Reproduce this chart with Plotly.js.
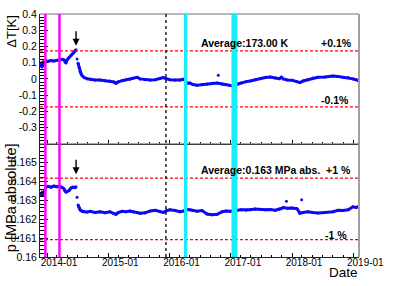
<!DOCTYPE html>
<html>
<head>
<meta charset="utf-8">
<script src="https://cdn.plot.ly/plotly-3.0.1.min.js"></script>
<style>html,body{margin:0;padding:0;background:#fff;}#plot{width:399px;height:286px;}</style>
</head>
<body>
<div id="plot"></div>
<script>
// ---- data ----
var dates = [
'2013-11-20','2013-11-26','2013-12-02','2013-12-08','2013-12-14','2013-12-26','2014-01-07','2014-01-24','2014-02-11','2014-03-01',
'2014-03-19','2014-03-31','2014-04-12','2014-04-18','2014-04-24','2014-04-30','2014-05-12','2014-05-24','2014-06-05','2014-06-17','2014-06-23',
null,'2014-06-29',null,
'2014-07-05','2014-07-11','2014-07-17','2014-07-23','2014-07-29','2014-08-10','2014-08-28','2014-09-15','2014-10-14','2014-11-13',
'2014-12-13','2015-01-11','2015-02-04','2015-02-16','2015-02-28','2015-03-24','2015-04-17','2015-05-11','2015-05-29','2015-06-22',
'2015-07-10','2015-08-09','2015-09-08','2015-10-08','2015-11-07','2015-11-25','2015-12-13','2016-01-04','2016-02-03','2016-03-03',
'2016-03-27','2016-04-14','2016-05-02','2016-05-20','2016-06-13','2016-07-13','2016-08-12','2016-09-11','2016-10-11','2016-11-10',
'2016-12-04','2016-12-28','2017-01-14','2017-02-07','2017-03-03','2017-04-02','2017-04-26','2017-05-26','2017-06-25','2017-07-25',
'2017-08-24','2017-09-23','2017-10-17','2017-10-29','2017-11-10','2017-12-04','2017-12-31','2018-01-30','2018-02-17','2018-03-07',
'2018-04-05','2018-05-05','2018-06-04','2018-07-16','2018-09-02','2018-10-02','2018-11-01','2018-12-01','2018-12-30','2019-01-17',
'2019-02-01'];
var deltaT = [
0.08,0.098,0.074,0.105,0.092,0.11,0.109,0.113,0.111,0.115,
0.117,0.121,0.117,0.104,0.098,0.117,0.134,0.144,0.158,0.17,0.179,
null,0.123,null,
0.097,0.068,0.045,0.031,0.02,0.008,0.001,-0.002,-0.007,-0.007,
-0.011,-0.013,-0.019,-0.027,-0.019,-0.011,-0.005,-0.002,0.004,0.01,
0.0,-0.005,-0.007,-0.005,0.004,0.008,0.001,-0.005,-0.007,-0.007,
-0.002,-0.027,-0.025,-0.035,-0.039,-0.035,-0.031,-0.027,-0.025,-0.031,
-0.035,-0.041,-0.043,-0.033,-0.025,-0.017,-0.013,-0.005,0.002,0.008,
0.012,0.006,0.001,0.01,0.0,-0.007,-0.009,-0.017,-0.023,-0.013,
-0.005,0.006,0.01,0.012,0.018,0.014,0.01,0.008,0.0,-0.005,
-0.011];
var pressure = [
0.16336,0.16330,0.16340,0.16333,0.16342,0.16372,0.16374,0.16370,0.16376,0.16372,
0.16375,0.16369,0.16362,0.16350,0.16344,0.16346,0.16352,0.16366,0.16370,0.16368,0.16372,
null,0.16316,null,
0.16276,0.16262,0.16250,0.16246,0.16243,0.16240,0.16238,0.16242,0.16236,0.16240,
0.16235,0.16240,0.16230,0.16226,0.16235,0.16242,0.16240,0.16244,0.16240,0.16236,
0.16232,0.16234,0.16244,0.16248,0.16240,0.16236,0.16245,0.16250,0.16246,0.16240,
0.16244,0.16252,0.16250,0.16246,0.16242,0.16246,0.16228,0.16224,0.16226,0.16240,
0.16244,0.16242,0.16246,0.16248,0.16250,0.16248,0.16250,0.16254,0.16252,0.16250,
0.16252,0.16248,0.16254,0.16256,0.16262,0.16258,0.16260,0.16256,0.16232,0.16236,
0.16240,0.16236,0.16233,0.16236,0.16240,0.16248,0.16246,0.16250,0.16266,0.16262,
0.16266];
var tOutlierDates = ['2016-10-18'];
var tOutlierVals = [0.023];
var pOutlierDates = ['2017-11-28','2018-02-27'];
var pOutlierVals = [0.16296,0.16303];

var avgT = 173.00;          // K
var avgP = 0.16255;         // MPa abs.
var tBand = avgT * 0.001;   // +-0.1 %
var pBand = avgP * 0.01;    // +-1 %

var magentaDates = ['2013-12-22','2014-03-16'];
var cyanDates = ['2016-04-06','2017-01-22'];
var cyanWidths = [3.3, 5.8];
var dottedDate = '2015-12-11';
var arrowDate = '2014-06-23';

var xTickLabels = ['2014-01','2015-01','2016-01','2017-01','2018-01','2019-01'];
var tTickVals = [-0.3,-0.2,-0.1,0,0.1,0.2,0.3,0.4];
var pTickVals = [0.16,0.161,0.162,0.163,0.164,0.165];

// ---- drawing ----
var blue = '#0a0af5';
var FONT = 'Liberation Sans, Arial, Helvetica, sans-serif';
var traces = [
  {x: dates, y: deltaT, xaxis:'x', yaxis:'y', mode:'lines+markers', connectgaps:false,
   line:{color:blue, width:3}, marker:{color:blue, size:3}},
  {x: tOutlierDates, y: tOutlierVals, xaxis:'x', yaxis:'y', mode:'markers', marker:{color:blue, size:3}},
  {x: dates, y: pressure, xaxis:'x2', yaxis:'y2', mode:'lines+markers', connectgaps:false,
   line:{color:blue, width:3}, marker:{color:blue, size:3}},
  {x: pOutlierDates, y: pOutlierVals, xaxis:'x2', yaxis:'y2', mode:'markers', marker:{color:blue, size:3}}
];

var xTickDates = xTickLabels.map(function(s){return s+'-01';});
var xr = ['2013-11-20','2019-02-04'];
var splitY = 0.466;
function xaxisDef(showLabels, anchor){
  return {
    type:'date', range:xr, anchor:anchor, domain:[0,1],
    tickmode:'array', tickvals:xTickDates, ticktext:xTickLabels,
    showticklabels:showLabels, ticks:'inside', ticklen:4, tickwidth:1, tickcolor:'#000',
    ticklabelshift:12, ticklabelstandoff:-4,
    minor:{tickmode:'linear', tick0:'2014-01-01', dtick:'M2', ticks:'inside', ticklen:2, tickcolor:'#000'},
    showline:true, linecolor:'#222', linewidth:1, showgrid:false, zeroline:false,
    tickfont:{family:FONT, size:10, color:'#000'}
  };
}
var layout = {
  width:399, height:286, margin:{l:40, r:40, t:14, b:29, pad:0},
  paper_bgcolor:'#fff', plot_bgcolor:'#fff', showlegend:false,
  font:{family:FONT, color:'#000'},
  xaxis: xaxisDef(false,'y'),
  xaxis2: Object.assign(xaxisDef(true,'y2'), {matches:'x'}),
  yaxis:{domain:[splitY,1], range:[-0.4,0.4], tickmode:'array', tickvals:tTickVals,
    ticktext:tTickVals.map(function(v){return String(v);}),
    ticks:'inside', ticklen:8, tickcolor:'#000',
    minor:{tickmode:'linear', tick0:0, dtick:0.02, ticks:'inside', ticklen:4, tickcolor:'#000'},
    showline:true, linecolor:'#222', linewidth:1, showgrid:false, zeroline:false,
    tickfont:{family:FONT, size:10.5, color:'#000'}},
  yaxis2:{domain:[0,splitY], range:[0.16,0.166], tickmode:'array', tickvals:pTickVals,
    ticktext:pTickVals.map(function(v){return String(v);}),
    ticks:'inside', ticklen:8, tickcolor:'#000',
    minor:{tickmode:'linear', tick0:0.16, dtick:0.0002, ticks:'inside', ticklen:4, tickcolor:'#000'},
    showline:true, linecolor:'#222', linewidth:1, showgrid:false, zeroline:false,
    tickfont:{family:FONT, size:10.5, color:'#000'}},
  shapes:[], annotations:[]
};

// frame (top and right, gray)
layout.shapes.push({type:'line', xref:'paper', yref:'paper', x0:0, x1:1, y0:1, y1:1, line:{color:'#a0a0a0', width:1.5}});
layout.shapes.push({type:'line', xref:'paper', yref:'paper', x0:1, x1:1, y0:0, y1:1, line:{color:'#a0a0a0', width:2}});
layout.shapes.push({type:'line', xref:'paper', yref:'paper', x0:0, x1:1, y0:splitY, y1:splitY, line:{color:'#888', width:1}});

// red dashed tolerance lines
[[tBand,'y'],[-tBand,'y'],[avgP+pBand,'y2'],[avgP-pBand,'y2']].forEach(function(a){
  layout.shapes.push({type:'line', xref:'paper', yref:a[1], x0:0, x1:1, y0:a[0], y1:a[0],
    line:{color:'#ff0000', width:1.2, dash:'3px,2px'}});
});
// vertical markers
magentaDates.forEach(function(d){
  layout.shapes.push({type:'line', xref:'x', yref:'paper', x0:d, x1:d, y0:0, y1:1, line:{color:'#ff00ff', width:2.5}});
});
cyanDates.forEach(function(d,i){
  layout.shapes.push({type:'line', xref:'x', yref:'paper', x0:d, x1:d, y0:0, y1:1, line:{color:'#18ecf4', width:cyanWidths[i]}});
});
layout.shapes.push({type:'line', xref:'x', yref:'paper', x0:dottedDate, x1:dottedDate, y0:0, y1:1, line:{color:'#000', width:1.3, dash:'dot'}});

// texts
function ann(text, x, y, yref, xanchor){
  return {text:'<b>'+text+'</b>', xref:'paper', yref:yref, x:x, y:y, xanchor:xanchor, yanchor:'middle',
    showarrow:false, font:{family:FONT, size:10.5, color:'#000'}, borderpad:0};
}
layout.annotations.push(ann('Average:'+avgT.toFixed(2)+' K', 0.5016, 0.222, 'y', 'left'));
layout.annotations.push(ann('+0.1%', 0.980, 0.224, 'y', 'right'));
layout.annotations.push(ann('-0.1%', 0.972, -0.129, 'y', 'right'));
layout.annotations.push(ann('Average:'+avgP.toFixed(3)+' MPa abs.', 0.5016, 0.16461, 'y2', 'left'));
layout.annotations.push(ann('+1 %', 0.977, 0.16461, 'y2', 'right'));
layout.annotations.push(ann('-1 %', 0.9655, 0.16117, 'y2', 'right'));

// arrows
layout.annotations.push({text:'', x:arrowDate, y:0.204, xref:'x', yref:'y', showarrow:true,
  ax:0, ay:-16, arrowhead:2, arrowsize:1, arrowwidth:1.4, arrowcolor:'#000'});
layout.annotations.push({text:'', x:arrowDate, y:0.16438, xref:'x2', yref:'y2', showarrow:true,
  ax:0, ay:-16, arrowhead:2, arrowsize:1, arrowwidth:1.4, arrowcolor:'#000'});

// axis titles
layout.annotations.push({text:'\u0394T[K]', xref:'paper', yref:'paper', x:-0.088, y:1.003,
  xanchor:'center', yanchor:'top', textangle:-90, showarrow:false, font:{family:FONT, size:13, color:'#000'}, borderpad:0});
layout.annotations.push({text:'p [MPa absolute]', xref:'paper', yref:'paper', x:-0.092, y:0.473,
  xanchor:'center', yanchor:'top', textangle:-90, showarrow:false, font:{family:FONT, size:14.5, color:'#000'}, borderpad:0});
layout.annotations.push({text:'Date', xref:'paper', yref:'paper', x:1.0, y:-0.064,
  xanchor:'right', yanchor:'middle', showarrow:false, font:{family:FONT, size:13.5, color:'#000'}, borderpad:0});

Plotly.newPlot('plot', traces, layout, {displayModeBar:false, staticPlot:true});
</script>
</body>
</html>
